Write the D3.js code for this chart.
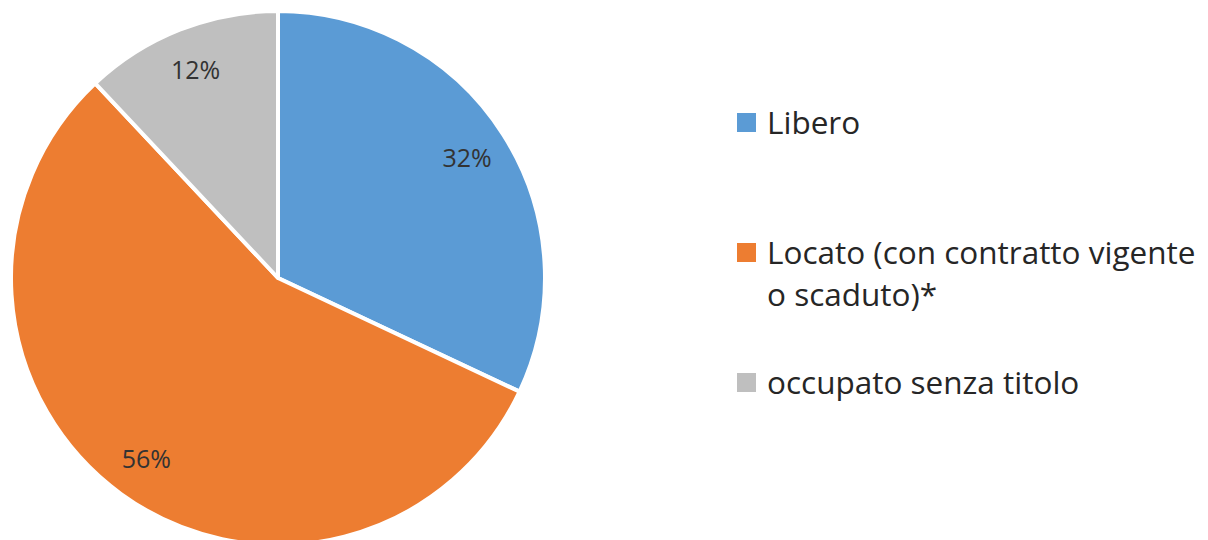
<!DOCTYPE html>
<html><head><meta charset="utf-8">
<script src="https://cdn.jsdelivr.net/npm/d3@7"></script>
<style>html,body{margin:0;padding:0;background:#fff;}svg{display:block;}</style>
</head><body>
<svg id="c" width="1208" height="540"></svg>
<script>
const categories = ["Libero", "Locato (con contratto vigente o scaduto)*", "occupato senza titolo"];
const legendLines = [["Libero"], ["Locato (con contratto vigente", "o scaduto)*"], ["occupato senza titolo"]];
const values = [32, 56, 12];
const labels = ["32%", "56%", "12%"];
const colors = ["#5B9BD5", "#ED7D31", "#BFBFBF"];

const svg = d3.select("#c");
const cx = 278, cy = 278, R = 267;
const g = svg.append("g").attr("transform", `translate(${cx},${cy})`);
const pie = d3.pie().sort(null).value(d => d)(values);
const arc = d3.arc().innerRadius(0).outerRadius(R);
const labelArc = d3.arc().innerRadius(224).outerRadius(224);

g.selectAll("path").data(pie).join("path")
  .attr("d", arc).attr("fill", (d,i) => colors[i])
  .attr("stroke", "#fff").attr("stroke-width", 4).attr("stroke-linejoin", "round");

g.selectAll("text").data(pie).join("text")
  .attr("transform", d => `translate(${labelArc.centroid(d)})`)
  .attr("text-anchor", "middle").attr("dy", "0.36em")
  .attr("font-family", "'Open Sans', sans-serif").attr("font-size", 25)
  .attr("fill", "#333333")
  .text((d,i) => labels[i]);

const ly = [123, 253, 383];
const leg = svg.append("g");
legendLines.forEach((lines, i) => {
  leg.append("rect").attr("x", 737).attr("y", ly[i] - 10).attr("width", 19).attr("height", 19).attr("fill", colors[i]);
  const t = leg.append("text").attr("x", 767).attr("y", ly[i] + 11)
    .attr("font-family", "'Open Sans', sans-serif").attr("font-size", 31.5).attr("fill", "#262626");
  lines.forEach((ln, j) => {
    t.append("tspan").attr("x", 767).attr("dy", j === 0 ? 0 : 42).text(ln);
  });
});
</script>
</body></html>
